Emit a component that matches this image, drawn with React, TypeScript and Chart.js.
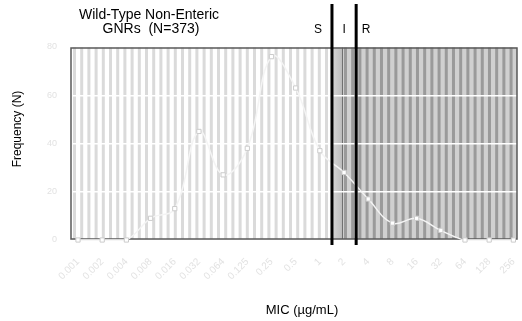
import React, { useEffect, useRef } from "react";
import { Chart, registerables } from "chart.js";

Chart.register(...registerables);

const micLabels = ["0.001", "0.002", "0.004", "0.008", "0.016", "0.032", "0.064", "0.125", "0.25", "0.5", "1", "2", "4", "8", "16", "32", "64", "128", "256"];
const frequency = [0, 0, 0, 9, 13, 45, 27, 38, 76, 63, 37, 28, 17, 7, 9, 4, 0, 0, 0];
const yTickValues = [0, 20, 40, 60, 80];
const susceptibleMax = "1";
const resistantMin = "4";
const titleLines = ["Wild-Type Non-Enteric", "GNRs  (N=373)"];
const yTitle = "Frequency (N)";
const xTitle = "MIC (µg/mL)";
const zoneLabels = ["S", "I", "R"];

const FONT = "'Liberation Sans', Arial, sans-serif";

const decorPlugin = {
  id: "decor",
  beforeDraw(chart: any) {
    const { ctx, chartArea: a, scales } = chart;
    const x = scales.x;
    const sEdge = x.getPixelForValue(micLabels.indexOf(susceptibleMax) + 0.5);
    ctx.save();
    ctx.fillStyle = "#ffffff";
    ctx.fillRect(a.left, a.top, sEdge - a.left, a.bottom - a.top);
    const period = 7.2;
    ctx.fillStyle = "#dadada";
    for (let px = a.left + 2; px < sEdge; px += period) {
      ctx.fillRect(px, a.top, Math.min(3, sEdge - px), a.bottom - a.top);
    }
    ctx.fillStyle = "#d0d0d0";
    ctx.fillRect(sEdge, a.top, a.right - sEdge, a.bottom - a.top);
    ctx.fillStyle = "#9a9a9a";
    for (let px = sEdge + 12; px < a.right; px += period) {
      ctx.fillRect(px, a.top, Math.min(3, a.right - px), a.bottom - a.top);
    }
    const g = ctx.createLinearGradient(sEdge, 0, sEdge + 10, 0);
    g.addColorStop(0, "#d6d6d6");
    g.addColorStop(1, "#bdbdbd");
    ctx.fillStyle = g;
    ctx.fillRect(sEdge, a.top, 10, a.bottom - a.top);
    ctx.strokeStyle = "#6e6e6e";
    ctx.lineWidth = 1;
    ctx.beginPath();
    ctx.moveTo(sEdge + 10.5, a.top);
    ctx.lineTo(sEdge + 10.5, a.bottom);
    ctx.stroke();
    ctx.restore();
  },
  beforeDatasetsDraw(chart: any) {
    const { ctx, chartArea: a } = chart;
    ctx.save();
    ctx.strokeStyle = "#5a5a5a";
    ctx.lineWidth = 1.5;
    ctx.strokeRect(a.left, a.top + 1, a.right - a.left, a.bottom - a.top - 2);
    ctx.restore();
  },
  afterDraw(chart: any) {
    const { ctx, scales } = chart;
    const x = scales.x;
    const b1 = x.getPixelForValue(micLabels.indexOf(susceptibleMax) + 0.5);
    const b2 = x.getPixelForValue(micLabels.indexOf(resistantMin) - 0.5);
    ctx.save();
    ctx.strokeStyle = "#000000";
    ctx.lineWidth = 3;
    [b1, b2].forEach((bx) => {
      ctx.beginPath();
      ctx.moveTo(bx, 4);
      ctx.lineTo(bx, 245);
      ctx.stroke();
    });
    ctx.fillStyle = "#000000";
    ctx.textBaseline = "alphabetic";
    ctx.textAlign = "center";
    ctx.font = `12px ${FONT}`;
    ctx.fillText(zoneLabels[0], b1 - 14, 33);
    ctx.fillText(zoneLabels[1], (b1 + b2) / 2, 33);
    ctx.fillText(zoneLabels[2], b2 + 10, 33);
    ctx.font = `14px ${FONT}`;
    ctx.fillText(titleLines[0], 149, 19);
    ctx.fillText(titleLines[1], 151, 33);
    ctx.font = `13px ${FONT}`;
    ctx.fillText(xTitle, 302, 314);
    ctx.font = `12px ${FONT}`;
    ctx.translate(21, 129);
    ctx.rotate(-Math.PI / 2);
    ctx.fillText(yTitle, 0, 0);
    ctx.restore();
  },
};

export default function App() {
  const ref = useRef<HTMLCanvasElement | null>(null);
  useEffect(() => {
    if (!ref.current) return;
    const chart = new Chart(ref.current, {
      type: "line",
      data: {
        datasets: [
          {
            data: frequency.map((v, i) => ({ x: i, y: v })),
            borderColor: "#f4f4f4",
            borderWidth: 1.5,
            tension: 0.4,
            pointStyle: "rect",
            pointRadius: 3,
            pointBackgroundColor: "#ffffff",
            pointBorderColor: "#cccccc",
            pointBorderWidth: 1,
            clip: false as any,
          },
        ],
      },
      options: {
        animation: false,
        responsive: false,
        devicePixelRatio: 1,
        layout: { padding: { left: 0, top: 47, right: 2, bottom: 0 } },
        plugins: { legend: { display: false }, tooltip: { enabled: false } },
        scales: {
          x: {
            type: "linear",
            min: -0.29,
            max: 18.15,
            grid: { display: false },
            border: { display: false },
            afterFit: (s: any) => {
              s.height = 81;
              s.paddingLeft = 0;
              s.paddingRight = 0;
            },
            afterBuildTicks: (s: any) => {
              s.ticks = micLabels.map((_, i) => ({ value: i }));
            },
            ticks: {
              autoSkip: false,
              minRotation: 45,
              maxRotation: 45,
              padding: 8,
              color: "#e2e2e2",
              font: { family: FONT, size: 10 },
              callback: (v: any) => micLabels[v] ?? "",
            },
          },
          y: {
            min: 0,
            max: 80,
            afterFit: (s: any) => {
              s.width = 71;
              s.paddingTop = 0;
              s.paddingBottom = 0;
            },
            afterBuildTicks: (s: any) => {
              s.ticks = yTickValues.map((v) => ({ value: v }));
            },
            border: { display: false },
            grid: { color: "#ffffff", lineWidth: 1.5, drawTicks: false },
            ticks: {
              padding: 14,
              color: "#e2e2e2",
              font: { family: FONT, size: 9 },
            },
          },
        },
      },
      plugins: [decorPlugin],
    });
    return () => chart.destroy();
  }, []);
  return (
    <div style={{ position: "absolute", left: 0, top: 0, width: 522, height: 321, background: "#fff" }}>
      <canvas ref={ref} width={522} height={321} style={{ display: "block" }} />
    </div>
  );
}
